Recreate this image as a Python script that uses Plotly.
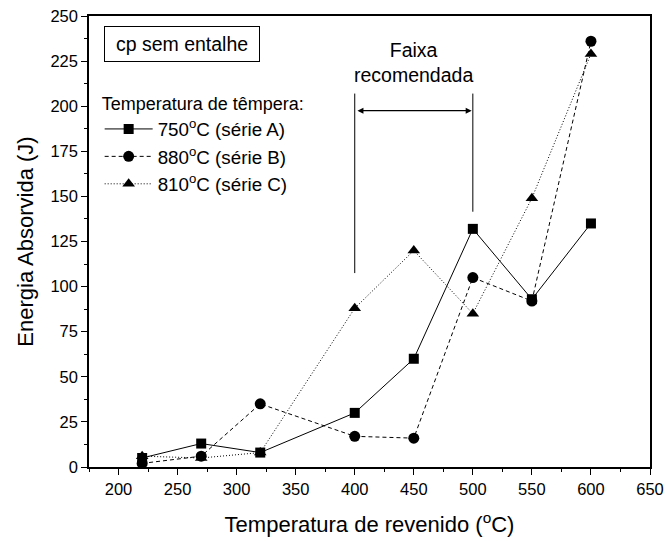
import plotly.graph_objects as go

temps = [220, 270, 320, 400, 450, 500, 550, 600]
serie_a = [5, 13, 8, 30, 60, 132, 93, 135]
serie_b = [2, 6, 35, 17, 16, 105, 92, 236]
serie_c = [6, 5, 8, 88, 120, 85, 149, 229]
names = ["750<sup>o</sup>C (série A)", "880<sup>o</sup>C (série B)", "810<sup>o</sup>C (série C)"]
x_ticks = [200, 250, 300, 350, 400, 450, 500, 550, 600, 650]
y_ticks = [0, 25, 50, 75, 100, 125, 150, 175, 200, 225, 250]
faixa = [400, 500]

FONT = "Arial, Liberation Sans, sans-serif"

fig = go.Figure()
styles = [
    (serie_a, "solid", "square", 10),
    (serie_b, "4px,3px", "circle", 11),
    (serie_c, "1px,2px", "triangle-up", 11),
]
for i, (vals, dash, sym, sz) in enumerate(styles):
    fig.add_trace(go.Scatter(
        x=temps, y=vals, name=names[i], mode="lines+markers",
        legendgroup=f"g{i}",
        line=dict(color="black", width=1, dash=dash),
        marker=dict(symbol=sym, size=sz, color="black", line=dict(width=0)),
    ))

# recommended range lines
fig.add_shape(type="line", x0=faixa[0], x1=faixa[0], y0=107.5, y1=207, line=dict(color="black", width=1))
fig.add_shape(type="line", x0=faixa[1], x1=faixa[1], y0=141.5, y1=207, line=dict(color="black", width=1))
fig.add_annotation(x=faixa[1] - 1, y=197.5, ax=faixa[0] + 1, ay=197.5, xref="x", yref="y",
                   axref="x", ayref="y", text="", showarrow=True, arrowhead=2,
                   arrowside="end+start", arrowsize=1, arrowwidth=1.2, arrowcolor="black")
fig.add_annotation(x=(faixa[0] + faixa[1]) / 2, y=224, xref="x", yref="y",
                   text="Faixa<br>recomendada", showarrow=False,
                   xanchor="center", yanchor="middle",
                   font=dict(family=FONT, size=19.5, color="black"))

fig.add_annotation(x=0.166, y=0.937, xref="paper", yref="paper", text="cp sem entalhe",
                   showarrow=False, bordercolor="black", borderwidth=1, borderpad=6,
                   xanchor="center", yanchor="middle",
                   width=142, height=22, bgcolor="white",
                   font=dict(family=FONT, size=19.5, color="black"))

axis_common = dict(showline=True, linecolor="black", linewidth=1.5, mirror=True,
                   ticks="outside", ticklen=6, tickwidth=1.2, tickcolor="black",
                   showgrid=False, zeroline=False, automargin=False,
                   ticklabeloverflow="allow",
                   tickfont=dict(family=FONT, size=16.5, color="black"))

fig.update_layout(
    width=666, height=543,
    margin=dict(l=89, r=16, t=16, b=76),
    paper_bgcolor="white", plot_bgcolor="white",
    font=dict(family=FONT, color="black"),
    showlegend=True,
    legend=dict(x=0.019, y=0.843, xanchor="left", yanchor="top",
                bgcolor="rgba(0,0,0,0)", borderwidth=0,
                font=dict(family=FONT, size=18.8, color="black"),
                title=dict(text="Temperatura de têmpera:", font=dict(family=FONT, size=18, color="black")),
                tracegroupgap=0, itemwidth=48),
    xaxis=dict(range=[175, 650], tickvals=x_ticks,
               minor=dict(dtick=25, ticks="outside", ticklen=3, tickcolor="black", tickwidth=1),
               title=dict(text="Temperatura de revenido (<sup>o</sup>C)", font=dict(family=FONT, size=22), standoff=20),
               **axis_common),
    yaxis=dict(range=[0, 250], tickvals=y_ticks,
               minor=dict(dtick=12.5, ticks="outside", ticklen=3, tickcolor="black", tickwidth=1),
               title=dict(text="Energia Absorvida (J)", font=dict(family=FONT, size=22), standoff=11),
               **axis_common),
)

# remove the browser's default 8px body margin so the 666x543 figure fills the window exactly
fig.write_html("out.html", config={"displayModeBar": False},
               post_script="document.body.style.margin='0';document.body.style.overflow='hidden';")
